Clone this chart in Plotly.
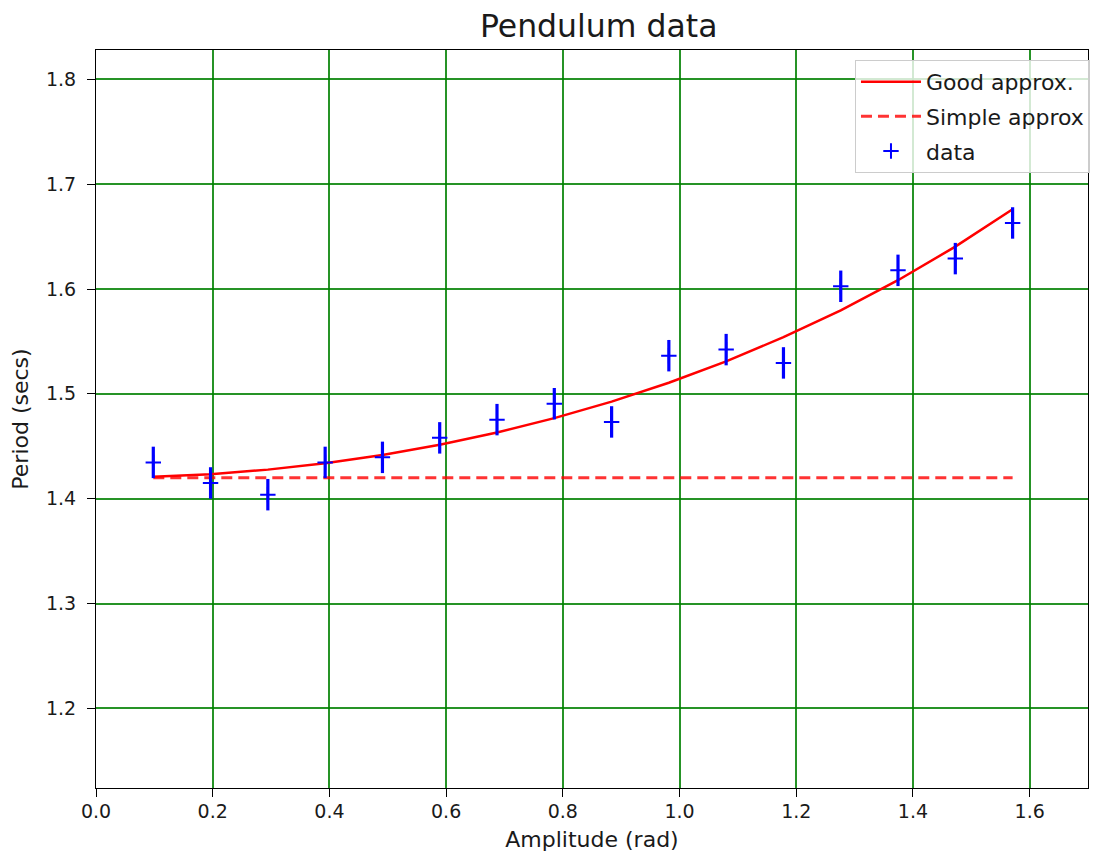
import plotly.graph_objects as go

# Data
amplitude = [0.0982, 0.1963, 0.2945, 0.3927, 0.4909, 0.5890, 0.6872, 0.7854,
             0.8836, 0.9817, 1.0799, 1.1781, 1.2763, 1.3744, 1.4726, 1.5708]
period_data = [1.4346, 1.4150, 1.4038, 1.4346, 1.4394, 1.4580, 1.4754, 1.4906,
               1.4732, 1.5364, 1.5422, 1.5295, 1.6026, 1.6178, 1.6290, 1.6630]
period_err = [0.015, 0.015, 0.015, 0.015, 0.015, 0.015, 0.015, 0.015,
              0.015, 0.015, 0.015, 0.015, 0.015, 0.015, 0.015, 0.015]
good_approx = [1.4209, 1.4234, 1.4277, 1.4338, 1.4417, 1.4514, 1.4631, 1.4768,
               1.4926, 1.5106, 1.5310, 1.5540, 1.5797, 1.6084, 1.6404, 1.6761]
simple_approx = [1.42, 1.42, 1.42, 1.42, 1.42, 1.42, 1.42, 1.42,
                 1.42, 1.42, 1.42, 1.42, 1.42, 1.42, 1.42, 1.42]

x_ticks = [0.0, 0.2, 0.4, 0.6, 0.8, 1.0, 1.2, 1.4, 1.6]
y_ticks = [1.2, 1.3, 1.4, 1.5, 1.6, 1.7, 1.8]

FONT = "DejaVu Sans"
TXT = "#1a1a1a"

fig = go.Figure()
fig.add_trace(go.Scatter(
    x=amplitude, y=good_approx, mode="lines", name="Good approx.",
    legendgroup="g1",
    line=dict(color="rgb(255,0,0)", width=2.5)))
fig.add_trace(go.Scatter(
    x=amplitude, y=simple_approx, mode="lines", name="Simple approx",
    legendgroup="g2",
    line=dict(color="rgba(255,0,0,0.8)", width=3, dash="11px,6px")))
fig.add_trace(go.Scatter(
    x=amplitude, y=period_data, mode="markers", name="data",
    legendgroup="g3",
    marker=dict(symbol="cross-thin", size=11, color="blue",
                line=dict(color="blue", width=2)),
    error_y=dict(type="data", array=period_err, visible=True,
                 color="blue", thickness=3.2, width=0)))

axis_common = dict(
    showline=True, linecolor="black", linewidth=1, mirror=True,
    ticks="outside", ticklen=8, tickcolor="black", tickwidth=1,
    showgrid=True, gridcolor="rgba(0,128,0,0.85)", gridwidth=1.5,
    zeroline=False, automargin=False,
    tickfont=dict(family=FONT, size=19, color=TXT),
)

# The page body has an 8px margin, so the figure is sized to fit the
# 1099x860 window without scrollbars.
fig.update_layout(
    width=1083, height=844,
    margin=dict(l=88, r=1, t=42, b=64),
    paper_bgcolor="white", plot_bgcolor="white",
    font=dict(family=FONT, color=TXT),
    title=dict(text="Pendulum data", x=0.5454, xanchor="center",
               y=0.9793, yref="container", yanchor="middle", automargin=False,
               font=dict(family=FONT, size=31.5, color=TXT)),
    xaxis=dict(range=[0, 1.7], tickvals=x_ticks,
               ticktext=[f"{v:.1f}" for v in x_ticks],
               ticklabelstandoff=-2,
               title=dict(text="Amplitude (rad)", standoff=19,
                          font=dict(family=FONT, size=22, color=TXT)),
               **axis_common),
    yaxis=dict(range=[1.124, 1.828], tickvals=y_ticks,
               ticktext=[f"{v:.1f}" for v in y_ticks],
               ticklabelstandoff=7,
               title=dict(text="Period (secs)", standoff=12,
                          font=dict(family=FONT, size=22, color=TXT)),
               **axis_common),
    legend=dict(x=1.002, xanchor="right", y=0.9865, yanchor="top",
                bgcolor="rgba(255,255,255,0.8)", bordercolor="#cccccc",
                borderwidth=1, font=dict(family=FONT, size=22, color=TXT),
                itemwidth=60, tracegroupgap=3),
    showlegend=True,
)

fig.write_html("out.html")
